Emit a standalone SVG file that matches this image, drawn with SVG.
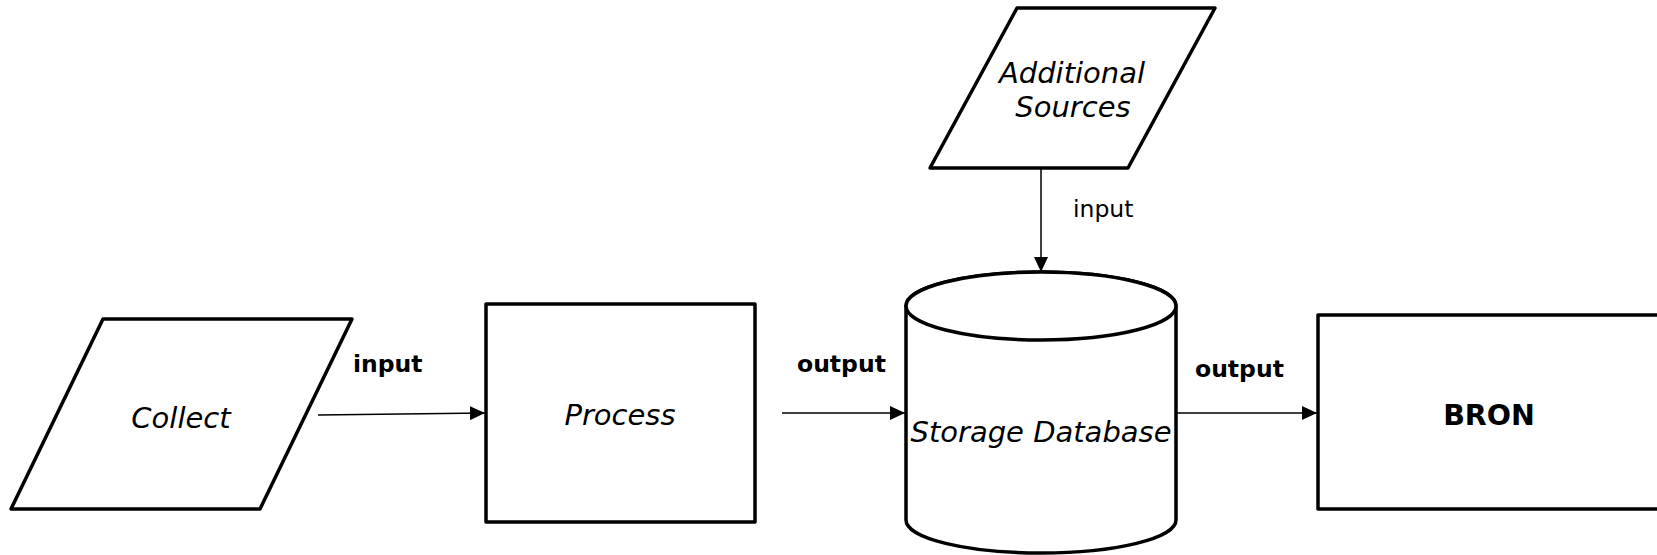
<svg xmlns="http://www.w3.org/2000/svg" width="1657" height="555" viewBox="0 0 1657 555">
<style>
.shape{fill:#fff;stroke:#000;stroke-width:3.5;stroke-linejoin:round}
.conn{stroke:#000;stroke-width:1.5;fill:none}
.it{font-family:"DejaVu Sans",Verdana,sans-serif;font-style:italic;font-size:29px;fill:#000;text-anchor:middle}
.bd{font-family:"DejaVu Sans",Verdana,sans-serif;font-weight:bold;fill:#000}
.lbl{font-family:"DejaVu Sans",Verdana,sans-serif;font-size:23.5px;fill:#000}
</style>
<defs>
<marker id="arr" markerWidth="16" markerHeight="14" refX="15" refY="7" orient="auto" markerUnits="userSpaceOnUse">
<path d="M0,0 L15,7 L0,14 Z" fill="#000"/>
</marker>
</defs>
<rect width="1657" height="555" fill="#fff"/>
<g id="connectors">
<line class="conn" x1="318" y1="415" x2="485" y2="413" marker-end="url(#arr)"/>
<line class="conn" x1="782" y1="413" x2="905" y2="413" marker-end="url(#arr)"/>
<line class="conn" x1="1177" y1="413" x2="1317" y2="413" marker-end="url(#arr)"/>
<line class="conn" x1="1041" y1="168" x2="1041" y2="272" marker-end="url(#arr)"/>
<text class="lbl bd" x="353" y="372">input</text>
<text class="lbl bd" x="797" y="372">output</text>
<text class="lbl bd" x="1195" y="377">output</text>
<text class="lbl" x="1073" y="217">input</text>
</g>
<g id="collect">
<polygon class="shape" points="103,319 352,319 260,509 11,509"/>
<text class="it" x="181" y="428">Collect</text>
</g>
<g id="process">
<rect class="shape" x="486" y="304" width="269" height="218"/>
<text class="it" x="620" y="425">Process</text>
</g>
<g id="additional-sources">
<polygon class="shape" points="1017,8 1215,8 1128,168 930,168"/>
<text class="it" x="1072" y="83">Additional</text>
<text class="it" x="1073" y="117">Sources</text>
</g>
<g id="storage-database">
<path class="shape" d="M906,306 L906,520 A135,33 0 0 0 1176,520 L1176,306 A135,34 0 0 0 906,306 Z"/>
<ellipse class="shape" cx="1041" cy="306" rx="135" ry="34"/>
<text class="it" x="1041" y="442">Storage Database</text>
</g>
<g id="bron">
<rect class="shape" x="1318" y="315" width="360" height="194"/>
<text class="bd" x="1489" y="425" font-size="28.5" text-anchor="middle">BRON</text>
</g>
</svg>
